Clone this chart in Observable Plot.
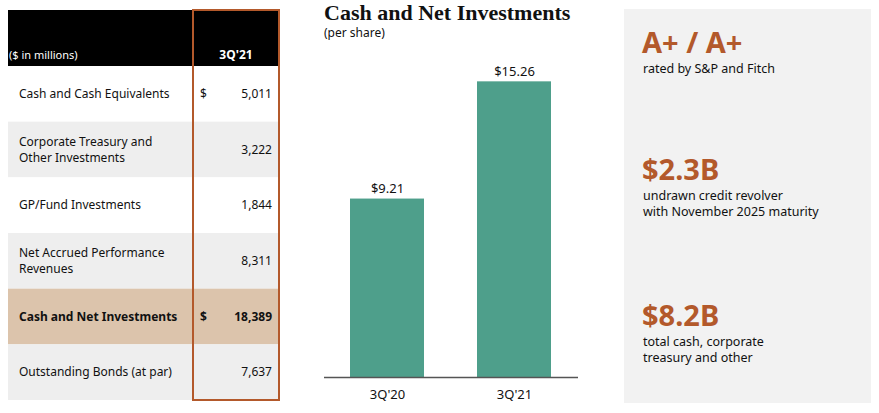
<!DOCTYPE html>
<html>
<head>
<meta charset="utf-8">
<script src="https://cdn.jsdelivr.net/npm/d3@7"></script>
<script src="https://cdn.jsdelivr.net/npm/@observablehq/plot@0.6"></script>
<style>
  html, body { margin: 0; padding: 0; background: #fff; }
  #page { position: relative; width: 879px; height: 413px; overflow: hidden; font-family: "Noto Sans", "DejaVu Sans", sans-serif; color: #111; }
  #overlay { position: absolute; left: 0; top: 0; }
  #chart { position: absolute; left: 300px; top: 45px; }
  .title { position: absolute; left: 324px; top: 2px; line-height: 22px; font-family: "Liberation Serif", "DejaVu Serif", serif; font-weight: bold; font-size: 22px; color: #111; white-space: nowrap; }
  .subtitle { position: absolute; left: 324px; top: 24px; font-size: 12px; color: #111; white-space: nowrap; }
</style>
</head>
<body>
<div id="page">
  <svg id="overlay" width="879" height="413"></svg>
  <div class="title">Cash and Net Investments</div>
  <div class="subtitle">(per share)</div>
  <div id="chart"></div>
</div>
<script>
// ---- Table data ($ in millions) ----
const tableUnit = "($ in millions)";
const tableColumn = "3Q'21";
const rowLabels = [
  ["Cash and Cash Equivalents"],
  ["Corporate Treasury and", "Other Investments"],
  ["GP/Fund Investments"],
  ["Net Accrued Performance", "Revenues"],
  ["Cash and Net Investments"],
  ["Outstanding Bonds (at par)"]
];
const rowValues = ["5,011", "3,222", "1,844", "8,311", "18,389", "7,637"];
const rowDollar = [true, false, false, false, true, false];
const rowBold = [false, false, false, false, true, false];

// ---- Bar chart data (per share) ----
const periods = ["3Q'20", "3Q'21"];
const perShare = [9.21, 15.26];

// ---- Callouts ----
const calloutHeadlines = ["A+ / A+", "$2.3B", "$8.2B"];
const calloutTexts = [
  ["rated by S&P and Fitch"],
  ["undrawn credit revolver", "with November 2025 maturity"],
  ["total cash, corporate", "treasury and other"]
];

const accent = "#b3592b";
const svg = d3.select("#overlay");

// Table
const tX = 8, tW = 271, headTop = 10, headBottom = 66, rowH = (400 - 66) / 6;
const colX = 193, colR = 279;
const rowFills = ["#ffffff", "#eeeeee", "#ffffff", "#eeeeee", "#dcc4ac", "#eeeeee"];
svg.append("rect").attr("x", tX).attr("y", headTop).attr("width", tW).attr("height", headBottom - headTop).attr("fill", "#000");
svg.append("text").attr("x", tX + 1).attr("y", 59).attr("fill", "#fff").attr("font-size", 11).text(tableUnit);
svg.append("text").attr("x", (colX + colR) / 2).attr("y", 59).attr("fill", "#fff").attr("font-size", 12).attr("font-weight", "bold").attr("text-anchor", "middle").text(tableColumn);
rowLabels.forEach((lines, i) => {
  const y0 = headBottom + i * rowH;
  const cy = y0 + rowH / 2;
  svg.append("rect").attr("x", tX).attr("y", y0).attr("width", tW).attr("height", rowH).attr("fill", rowFills[i]);
  const g = svg.append("g").attr("font-size", 12).attr("font-weight", rowBold[i] ? "bold" : "normal").attr("fill", "#111");
  lines.forEach((ln, j) => {
    g.append("text").attr("x", 19).attr("y", cy + 4 + (j - (lines.length - 1) / 2) * 16).text(ln);
  });
  if (rowDollar[i]) g.append("text").attr("x", 200).attr("y", cy + 4).text("$");
  g.append("text").attr("x", 272).attr("y", cy + 4).attr("text-anchor", "end").text(rowValues[i]);
});
svg.append("rect").attr("x", colX).attr("y", headTop).attr("width", colR - colX).attr("height", 400 - headTop).attr("fill", "none").attr("stroke", accent).attr("stroke-width", 2);

// Right panel
svg.append("rect").attr("x", 624).attr("y", 9).attr("width", 247).attr("height", 394).attr("fill", "#f2f2f2");
const headBase = [53, 180, 326];
calloutHeadlines.forEach((h, i) => {
  svg.append("text").attr("x", 642).attr("y", headBase[i]).attr("fill", accent).attr("font-size", 29).attr("font-weight", "bold").text(h);
  calloutTexts[i].forEach((ln, j) => {
    svg.append("text").attr("x", 643).attr("y", headBase[i] + 20 + j * 15.5).attr("fill", "#111").attr("font-size", 12.5).text(ln);
  });
});

// Bar chart
const barData = periods.map((p, i) => ({period: p, value: perShare[i]}));
const chart = Plot.plot({
  width: 290,
  height: 365,
  marginLeft: 24,
  marginRight: 12,
  marginTop: 22,
  marginBottom: 33,
  style: {fontFamily: "'Noto Sans', 'DejaVu Sans', sans-serif", fontSize: "13px", color: "#111", background: "transparent"},
  x: {domain: periods, paddingInner: 0.417, paddingOuter: 0.2085, label: null, tickSize: 0, tickPadding: 12},
  y: {domain: [0, 16], axis: null},
  marks: [
    Plot.barY(barData, {x: "period", y: "value", fill: "#4e9f8b"}),
    Plot.ruleY([0], {stroke: "#555", strokeWidth: 1.5}),
    Plot.text(barData, {x: "period", y: "value", text: d => "$" + d.value.toFixed(2), dy: -10, fontSize: 13, fill: "#111"})
  ]
});
document.getElementById("chart").appendChild(chart);
</script>
</body>
</html>
